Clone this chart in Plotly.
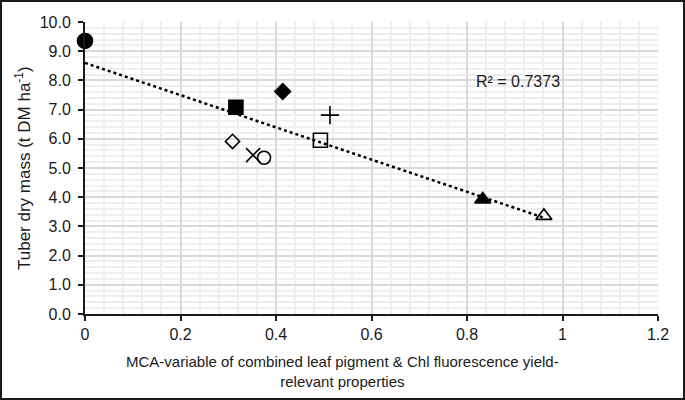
import numpy as np
import plotly.graph_objects as go

# values
mca = [0.0, 0.316, 0.414, 0.309, 0.352, 0.375, 0.513, 0.493, 0.833, 0.961]
dry_mass = [9.35, 7.08, 7.62, 5.91, 5.44, 5.35, 6.81, 5.95, 3.92, 3.36]
symbols = ["circle", "square", "diamond", "diamond-open", "x-thin-open", "circle-open",
           "cross-thin-open", "square-open", "triangle-up", "triangle-up-open"]
sizes = [15, 14, 12, 11, 14, 13, 13, 14, 14, 14]
r2_label = "R² = 0.7373"

# linear trendline over the data range (like Excel)
slope, intercept = np.polyfit(mca, dry_mass, 1)
tx = [min(mca), max(mca)]
ty = [intercept + slope * v for v in tx]

W, H = 685, 400
L, R, T, B = 85, 27, 22, 86
pw, ph = W - L - R, H - T - B

fig = go.Figure()
fig.add_trace(go.Scatter(x=tx, y=ty, mode="lines",
                         line=dict(color="black", width=2.5, dash="dot"),
                         hoverinfo="skip"))
fig.add_trace(go.Scatter(x=mca, y=dry_mass, mode="markers", cliponaxis=False,
                         marker=dict(symbol=symbols, size=sizes, color="black", opacity=1,
                                     line=dict(color="black", width=1.6))))

fam = "Liberation Sans, Arial, sans-serif"
font = dict(family=fam, size=16, color="#1a1a1a")

fig.update_layout(
    width=W, height=H, showlegend=False,
    margin=dict(l=L, r=R, t=T, b=B),
    paper_bgcolor="white", plot_bgcolor="white",
    font=font,
    xaxis=dict(range=[0, 1.2], dtick=0.2, tickformat="~g", tickfont=font,
               showline=True, linecolor="#1a1a1a", linewidth=2,
               ticks="outside", ticklen=5, tickwidth=2, tickcolor="#1a1a1a",
               showgrid=True, gridcolor="#d9d9d9", gridwidth=1.5, zeroline=False,
               minor=dict(dtick=0.04, showgrid=True, gridcolor="#efefef", gridwidth=1.5)),
    yaxis=dict(range=[0, 10], dtick=1, tickformat=".1f", tickfont=font, ticklabelstandoff=4,
               showline=True, linecolor="#1a1a1a", linewidth=2,
               ticks="outside", ticklen=5, tickwidth=2, tickcolor="#1a1a1a",
               showgrid=True, gridcolor="#d9d9d9", gridwidth=1.5, zeroline=False,
               minor=dict(dtick=0.2, showgrid=True, gridcolor="#efefef", gridwidth=1.5)),
)

# axis titles, centred like the Excel chart
fig.add_annotation(text="MCA-variable of combined leaf pigment & Chl fluorescence yield-<br>relevant properties",
                   xref="paper", yref="paper", x=(W / 2 - L) / pw, y=-(371.5 - T - ph) / ph,
                   yanchor="middle", showarrow=False, font=dict(family=fam, size=15, color="#1a1a1a"))
fig.add_annotation(text="Tuber dry mass (t DM ha<sup>-1</sup>)", textangle=-90,
                   xref="paper", yref="paper", x=-(L - 23) / pw, y=0.5,
                   xanchor="center", showarrow=False, font=dict(family=fam, size=17, color="#1a1a1a"))
fig.add_annotation(text=r2_label, x=0.815, y=7.95, xanchor="left", yanchor="middle",
                   showarrow=False, font=font)

# chart border
fig.add_shape(type="rect", xref="paper", yref="paper",
              x0=-(L - 1) / pw, x1=1 + (R - 1) / pw, y0=-(B - 1) / ph, y1=1 + (T - 1) / ph,
              line=dict(color="#1a1a1a", width=2))

# drop the default page margin so the figure fills the window
fig.write_html("out.html", config={"displayModeBar": False},
               post_script="document.body.style.margin='0';")
